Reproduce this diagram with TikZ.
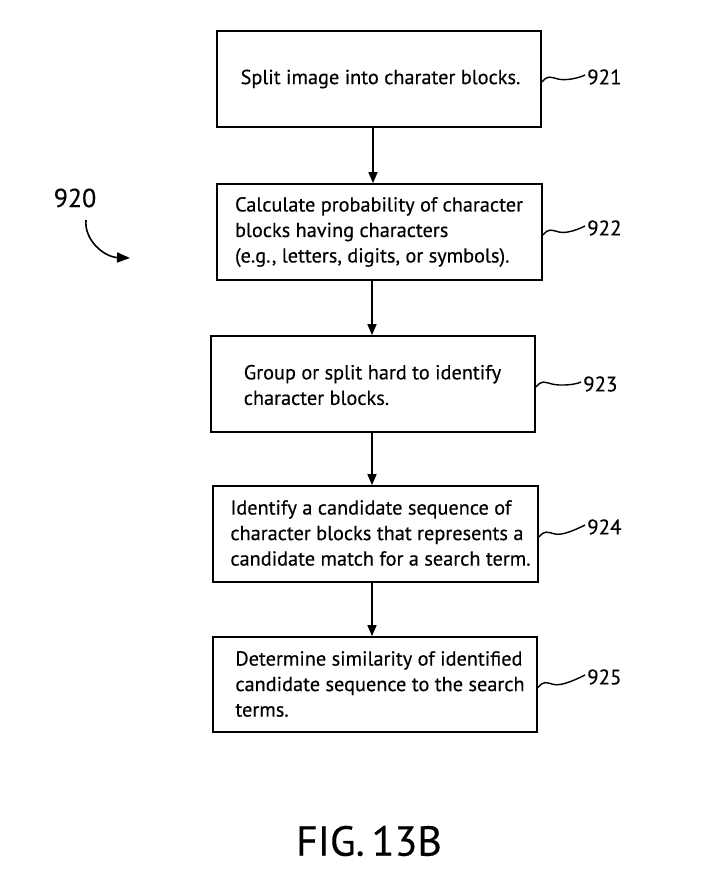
\documentclass[tikz,border=0pt]{standalone}
\usepackage{fontspec}
\setmainfont{PT Sans}[FakeBold=0.35]
\usetikzlibrary{arrows.meta}
\begin{document}
\begin{tikzpicture}[x=1pt,y=-1pt,
  stepbox/.style={draw,line width=1.8pt,inner sep=0pt},
  steptext/.style={align=left,inner sep=0pt,font=\fontsize{20.3}{25.5}\selectfont},
  flow/.style={line width=1.6pt,-{Triangle[length=11pt,width=9pt]}},
  squig/.style={line width=1.4pt},
  reflabel/.style={inner sep=0pt,anchor=west,font=\fontsize{21}{21}\selectfont}]
\useasboundingbox (0,0) rectangle (711,889);
% boxes
\node[stepbox,minimum width=324pt,minimum height=96pt] (b1) at (379,79) {};
\node[steptext] (t1) at (380.5,79) {Split image into charater blocks.};
\node[stepbox,minimum width=325pt,minimum height=96pt] (b2) at (379.5,232) {};
\node[steptext] (t2) at (379,232) {Calculate probability of character\\blocks having characters\\(e.g., letters, digits, or symbols).};
\node[stepbox,minimum width=324pt,minimum height=96pt] (b3) at (373,384) {};
\node[steptext] (t3) at (372.5,385) {Group or split hard to identify\\character blocks.};
\node[stepbox,minimum width=325pt,minimum height=96pt] (b4) at (375.5,534) {};
\node[steptext] (t4) at (380.5,533) {Identify a candidate sequence of\\character blocks that represents a\\candidate match for a search term.};
\node[stepbox,minimum width=324pt,minimum height=95pt] (b5) at (375,684.5) {};
\node[steptext] (t5) at (380,684) {Determine similarity of identified\\candidate sequence to the search\\terms.};
% arrows
\draw[flow] (b1.south -| 373,0) -- (b2.north -| 373,0);
\draw[flow] (b2.south -| 372,0) -- (b3.north -| 372,0);
\draw[flow] (b3.south -| 372,0) -- (b4.north -| 372,0);
\draw[flow] (b4.south -| 372,0) -- (b5.north -| 372,0);
% reference labels
\node[reflabel] (l1) at (587,77) {921};
\node[reflabel] (l2) at (587,228) {922};
\node[reflabel] (l3) at (583,384) {923};
\node[reflabel] (l4) at (587,527) {924};
\node[reflabel] (l5) at (587,677) {925};
\foreach \b/\l in {b1/l1,b2/l2,b3/l3,b4/l4,b5/l5}{
  \draw[squig] ([yshift=-3pt]\b.east) .. controls +(6,-7) and +(-8,-2) .. ++(16,-3)
     .. controls +(8,2) and +(-6,3) .. ([xshift=-2pt,yshift=2pt]\l.west);
}
% 920
\node[inner sep=0pt,font=\fontsize{26}{26}\selectfont] (l920) at (75,198) {920};
\coordinate (a0) at (86,220);
\coordinate (a1) at (130,258);
\draw[line width=1.6pt,-{Triangle[length=13pt,width=10pt]}] (a0) .. controls (84,240) and (104,257) .. (a1);
% caption
\node[inner sep=0pt,font=\fontsize{42}{42}\selectfont] (cap) at (369,841) {FIG.\,13B};
\end{tikzpicture}
\end{document}
